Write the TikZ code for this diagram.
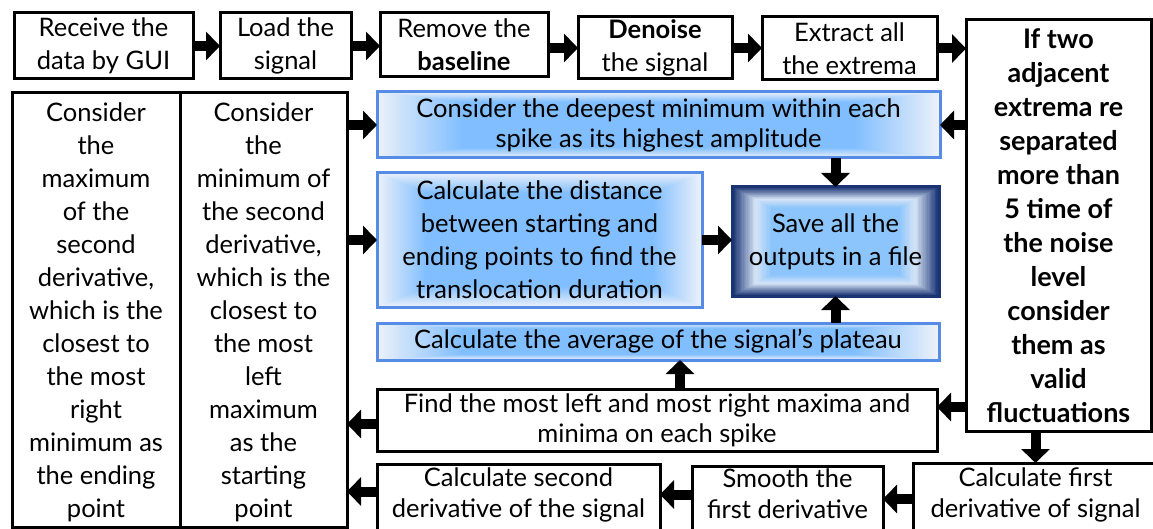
\documentclass[tikz,border=0pt]{standalone}
\usepackage{fontspec}
\setmainfont{Lato}
\usetikzlibrary{arrows.meta,calc}

\definecolor{edgeblue}{RGB}{86,140,230}
\definecolor{palefill}{RGB}{236,241,249}
\definecolor{skyfill}{RGB}{128,190,255}
\definecolor{navy}{RGB}{26,52,115}
\definecolor{savepale}{RGB}{214,228,246}
\definecolor{saveinner}{RGB}{140,196,252}

\tikzset{
  % rectangular gradient: outer colour, middle colour, inner colour, t of middle, t of inner
  rgrad/.style n args={5}{
    path picture={
      \foreach \i in {0,...,30}{
        \pgfmathsetmacro\t{1-\i*(1-#5)/30}
        \ifdim\t pt>#4pt
          \pgfmathtruncatemacro\p{100*(1-\t)/(1-#4)}
          \colorlet{gtmp}{#2!\p!#1}
        \else
          \pgfmathtruncatemacro\p{100*(#4-\t)/(#4-#5)}
          \colorlet{gtmp}{#3!\p!#2}
        \fi
        \fill[gtmp]
          ($(path picture bounding box.center)!\t!(path picture bounding box.north east)$)
          rectangle
          ($(path picture bounding box.center)!\t!(path picture bounding box.south west)$);
      }
    }
  },
  box/.style={draw=black, line width=3pt, fill=white, rectangle,
    inner sep=0pt, outer sep=0pt, align=center,
    font=\fontsize{25.5}{33}\selectfont},
  lowbox/.style={box, font=\fontsize{25.5}{31}\selectfont, text depth=13pt},
  bluebox/.style={box, draw=edgeblue,
    rgrad={palefill}{palefill!75!skyfill}{skyfill}{0.93}{0.7}},
  savebox/.style={box, draw=navy,
    rgrad={navy}{savepale}{saveinner}{0.78}{0.62}},
  arr/.style={line width=10pt, -{Triangle[width=28pt,length=14pt]}}
}

\begin{document}
\begin{tikzpicture}[x=1pt,y=-1pt]
\path[use as bounding box, fill=white] (0,0) rectangle (1153,529);
\clip (0,0) rectangle (1153,529);

% top row
\node[box, minimum width=179pt, minimum height=66pt] (b1) at (103.5,46) {Receive the\\data by GUI};
\node[box, minimum width=131pt, minimum height=66pt] (b2) at (285.5,46) {Load the\\signal};
\node[box, minimum width=168pt, minimum height=64pt] (b3) at (464,45) {Remove the\\\textbf{baseline}};
\node[box, minimum width=154pt, minimum height=62pt] (b4) at (655,48) {\textbf{Denoise}\\the signal};
\node[box, minimum width=175pt, minimum height=63pt] (b5) at (849.5,48.5) {Extract all\\the extrema};

% right column decision
\node[box, minimum width=185pt, minimum height=411pt,
      font=\fontsize{27}{34}\selectfont\bfseries] (b6) at (1058.5,225.5)
  {If two\\adjacent\\extrema re\\separated\\more than\\5 time of\\the noise\\level\\consider\\them as\\valid\\fluctuations};

% left tall columns
\node[box, minimum width=168pt, minimum height=434pt, text depth=-6pt] (l1) at (96,310)
  {Consider\\the\\maximum\\of the\\second\\derivative,\\which is the\\closest to\\the most\\right\\minimum as\\the ending\\point};
\node[box, minimum width=167pt, minimum height=434pt, text depth=-6pt] (l2) at (263.5,310)
  {Consider\\the\\minimum of\\the second\\derivative,\\which is the\\closest to\\the most\\left\\maximum\\as the\\starting\\point};

% middle blue boxes
\node[bluebox, minimum width=563pt, minimum height=66pt,
      font=\fontsize{25.5}{30}\selectfont] (c1) at (658.5,125)
  {Consider the deepest minimum within each\\spike as its highest amplitude};
\node[bluebox, minimum width=325pt, minimum height=134pt] (c2) at (539.5,240)
  {Calculate the distance\\between starting and\\ending points to find the\\translocation duration};
\node[savebox, minimum width=207pt, minimum height=109pt] (sv) at (835.5,241.5)
  {Save all the\\outputs in a file};
\node[bluebox, minimum width=562pt, minimum height=37pt] (c3) at (658,341.5)
  {Calculate the average of the signal’s plateau};

% lower boxes
\node[box, minimum width=560pt, minimum height=62pt,
      font=\fontsize{25.5}{30}\selectfont] (fd) at (657,420)
  {Find the most left and most right maxima and\\minima on each spike};
\node[lowbox, minimum width=283pt, minimum height=71pt] (d2) at (518.5,499.5)
  {Calculate second\\derivative of the signal};
\node[lowbox, minimum width=191pt, minimum height=69pt] (sm) at (787.5,500.5)
  {Smooth the\\first derivative};
\node[lowbox, minimum width=245pt, minimum height=72pt] (d1) at (1035.5,499)
  {Calculate first\\derivative of signal};

% connectors
\draw[arr] (b1.east) -- (b1.east -| b2.west);
\draw[arr] (b2.east) -- (b2.east -| b3.west);
\draw[arr] (b4.west -| b3.east) -- (b4.west);
\draw[arr] (b4.east) -- (b4.east -| b5.west);
\draw[arr] (b5.east) -- (b5.east -| b6.west);
\draw[arr] (b6.west |- c1.east) -- (c1.east);
\draw[arr] ([yshift=13pt]fd.east -| b6.west) -- ([yshift=13pt]fd.east);
\draw[arr] (d1.north |- b6.south) -- (d1.north);
\draw[arr] (d1.west) -- (d1.west -| sm.east);
\draw[arr] ([yshift=6pt]sm.west) -- ([yshift=6pt]sm.west -| d2.east);
\draw[arr] ([yshift=8pt]d2.west) -- ([yshift=8pt]d2.west -| l2.east);
\draw[arr] ([yshift=-4pt]fd.west) -- ([yshift=-4pt]fd.west -| l2.east);
\draw[arr] ([xshift=23pt]fd.north) -- ([xshift=23pt]fd.north |- c3.south);
\draw[arr] (sv.south |- c3.north) -- (sv.south);
\draw[arr] (sv.north |- c1.south) -- (sv.north);
\draw[arr] (c2.east) -- (c2.east -| sv.west);
\draw[arr] (l2.east |- c1.west) -- (c1.west);
\draw[arr] (l2.east |- c2.west) -- (c2.west);
\end{tikzpicture}
\end{document}
